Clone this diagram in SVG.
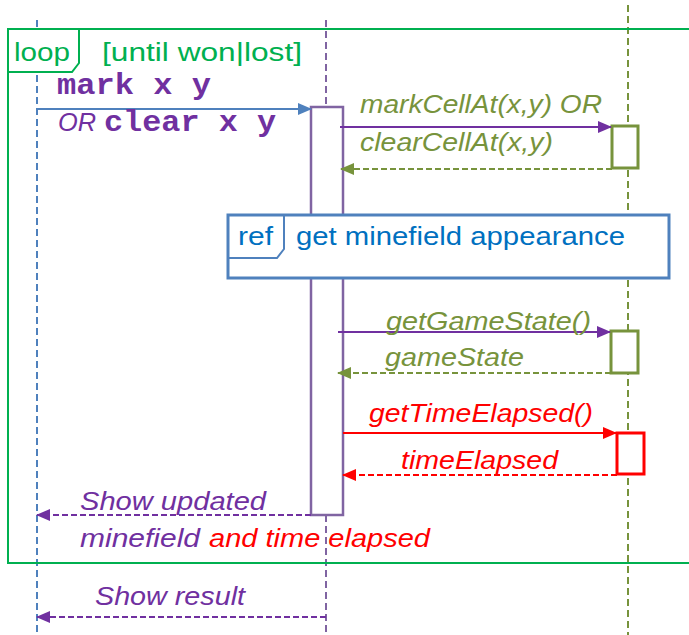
<svg xmlns="http://www.w3.org/2000/svg" width="689" height="635" viewBox="0 0 689 635">
<defs>
<style>
.ll{fill:none;stroke-width:2;stroke-dasharray:7,4}
.t{font-family:"Liberation Sans",Arial,sans-serif;font-size:26px;font-style:italic}
.n{font-family:"Liberation Sans",Arial,sans-serif;font-size:26px}
.m{font-family:"Liberation Mono","Courier New",monospace;font-size:30px;font-weight:bold;fill:#7030A0}
.msg{fill:none;stroke-width:2}
.ret{fill:none;stroke-width:2;stroke-dasharray:6,3}
</style>
<marker id="aBlue" markerWidth="14" markerHeight="12" refX="13" refY="6" orient="auto" markerUnits="userSpaceOnUse"><path d="M0,0 L14,6 L0,12 z" fill="#4F81BD"/></marker>
<marker id="aPurple" markerWidth="14" markerHeight="12" refX="13" refY="6" orient="auto" markerUnits="userSpaceOnUse"><path d="M0,0 L14,6 L0,12 z" fill="#7030A0"/></marker>
<marker id="aGreen" markerWidth="14" markerHeight="12" refX="13" refY="6" orient="auto" markerUnits="userSpaceOnUse"><path d="M0,0 L14,6 L0,12 z" fill="#77933C"/></marker>
<marker id="aRed" markerWidth="14" markerHeight="12" refX="13" refY="6" orient="auto" markerUnits="userSpaceOnUse"><path d="M0,0 L14,6 L0,12 z" fill="#FF0000"/></marker>
</defs>
<rect width="689" height="635" fill="#FFFFFF"/>
<g id="lifelines">
<line class="ll" x1="37" y1="20" x2="37" y2="635" stroke="#4F81BD"/>
<line class="ll" x1="326" y1="20" x2="326" y2="635" stroke="#8064A2"/>
<line class="ll" x1="628" y1="5" x2="628" y2="635" stroke="#77933C"/>
</g>
<g id="loop">
<rect x="8" y="29" width="700" height="534" fill="none" stroke="#00B050" stroke-width="2"/>
<path d="M8,29 H79 V63 L72,72 H8 Z" fill="#FFFFFF" stroke="#00B050" stroke-width="2"/>
<text class="n" x="14" y="61" fill="#00B050" textLength="56" lengthAdjust="spacingAndGlyphs">loop</text>
<text class="n" x="102" y="61" fill="#00B050" textLength="200" lengthAdjust="spacingAndGlyphs">[until won|lost]</text>
</g>
<g id="activation-controller">
<rect x="311" y="107" width="32" height="408" fill="#FFFFFF" stroke="#8064A2" stroke-width="2.5"/>
</g>
<g id="activation-cell">
<rect x="612" y="126" width="26" height="42" fill="#FFFFFF" stroke="#77933C" stroke-width="3"/>
</g>
<g id="activation-state">
<rect x="611" y="331" width="27" height="42" fill="#FFFFFF" stroke="#77933C" stroke-width="3"/>
</g>
<g id="activation-time">
<rect x="617" y="433" width="27" height="41" fill="#FFFFFF" stroke="#FF0000" stroke-width="3"/>
</g>
<g id="ref">
<rect x="228" y="215" width="441" height="63" fill="#FFFFFF" stroke="#4F81BD" stroke-width="3"/>
<path d="M228,215 H284 V249 L277,258 H228" fill="none" stroke="#4F81BD" stroke-width="2"/>
<text class="n" x="238" y="245" fill="#0070C0" textLength="35" lengthAdjust="spacingAndGlyphs">ref</text>
<text class="n" x="296" y="245" fill="#0070C0" textLength="329" lengthAdjust="spacingAndGlyphs">get minefield appearance</text>
</g>
<g id="connectors">
<line class="msg" x1="37" y1="109" x2="311" y2="109" stroke="#4F81BD" marker-end="url(#aBlue)"/>
<line class="msg" x1="340" y1="127" x2="611" y2="127" stroke="#7030A0" marker-end="url(#aPurple)"/>
<line class="ret" x1="612" y1="169" x2="341" y2="169" stroke="#77933C" marker-end="url(#aGreen)"/>
<line class="msg" x1="338" y1="332" x2="610" y2="332" stroke="#7030A0" marker-end="url(#aPurple)"/>
<line class="ret" x1="611" y1="373" x2="338" y2="373" stroke="#77933C" marker-end="url(#aGreen)"/>
<line class="msg" x1="343" y1="433" x2="616" y2="433" stroke="#FF0000" marker-end="url(#aRed)"/>
<line class="ret" x1="617" y1="475" x2="343" y2="475" stroke="#FF0000" marker-end="url(#aRed)"/>
<line class="ret" x1="311" y1="515" x2="37" y2="515" stroke="#7030A0" marker-end="url(#aPurple)"/>
<line class="ret" x1="326" y1="617" x2="37" y2="617" stroke="#7030A0" marker-end="url(#aPurple)"/>
</g>
<g id="labels">
<text class="m" x="57" y="94" textLength="154" lengthAdjust="spacingAndGlyphs">mark x y</text>
<text class="t" x="58" y="131" fill="#7030A0" textLength="38" lengthAdjust="spacingAndGlyphs">OR</text>
<text class="m" x="104" y="131" textLength="172" lengthAdjust="spacingAndGlyphs">clear x y</text>
<text class="t" x="360" y="113" fill="#77933C" textLength="242" lengthAdjust="spacingAndGlyphs">markCellAt(x,y) OR</text>
<text class="t" x="360" y="151" fill="#77933C" textLength="193" lengthAdjust="spacingAndGlyphs">clearCellAt(x,y)</text>
<text class="t" x="386" y="330" fill="#77933C" textLength="205" lengthAdjust="spacingAndGlyphs">getGameState()</text>
<text class="t" x="385" y="366" fill="#77933C" textLength="139" lengthAdjust="spacingAndGlyphs">gameState</text>
<text class="t" x="369" y="422" fill="#FF0000" textLength="224" lengthAdjust="spacingAndGlyphs">getTimeElapsed()</text>
<text class="t" x="401" y="469" fill="#FF0000" textLength="157" lengthAdjust="spacingAndGlyphs">timeElapsed</text>
<text class="t" x="80" y="510" fill="#7030A0" textLength="186" lengthAdjust="spacingAndGlyphs">Show updated</text>
<text class="t" x="80" y="547" fill="#7030A0" textLength="120" lengthAdjust="spacingAndGlyphs">minefield</text>
<text class="t" x="209" y="547" fill="#FF0000" textLength="221" lengthAdjust="spacingAndGlyphs">and time elapsed</text>
<text class="t" x="95" y="605" fill="#7030A0" textLength="150" lengthAdjust="spacingAndGlyphs">Show result</text>
</g>
</svg>
